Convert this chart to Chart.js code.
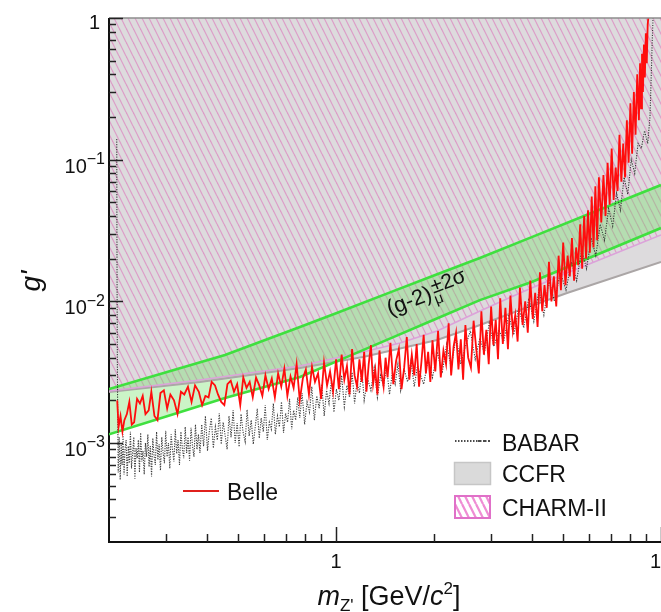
<!DOCTYPE html>
<html lang="en">
<head>
<meta charset="utf-8">
<title>Z' coupling limits</title>
<script src="https://cdn.jsdelivr.net/npm/chart.js@4/dist/chart.umd.min.js"></script>
<style>
  html, body { margin: 0; padding: 0; background: #ffffff; overflow: hidden; }
  #frame { width: 700px; height: 612px; }
</style>
</head>
<body>
<div id="frame"><canvas id="limits" width="700" height="612"></canvas></div>
<script>
// ---- data: masses in GeV/c^2, couplings g' in units of 1e-3 ----
const belleMass = [
  0.212, 0.214, 0.217, 0.220, 0.223, 0.227, 0.231, 0.235, 0.239, 0.244, 0.249, 0.254, 0.259, 0.265, 0.270,
  0.276, 0.282, 0.288, 0.295, 0.302, 0.309, 0.317, 0.325, 0.333, 0.341, 0.350, 0.359, 0.368, 0.378,
  0.387, 0.396, 0.405, 0.414, 0.424, 0.433, 0.443, 0.453, 0.463, 0.474, 0.485, 0.496, 0.507, 0.518, 0.530,
  0.542, 0.554, 0.567, 0.580, 0.593, 0.606, 0.620, 0.634, 0.648, 0.663,
  0.678, 0.693, 0.708, 0.724, 0.740, 0.756, 0.773, 0.790, 0.807, 0.825, 0.843, 0.861, 0.880, 0.899, 0.918,
  0.938, 0.958, 0.979, 1.0,
  1.02, 1.04, 1.06, 1.08, 1.10, 1.12, 1.14, 1.16, 1.18, 1.20, 1.22, 1.24, 1.26, 1.28, 1.30, 1.32, 1.34, 1.36,
  1.38, 1.40, 1.42, 1.44, 1.47, 1.50, 1.53, 1.56, 1.59, 1.62, 1.65, 1.68, 1.71, 1.74, 1.77, 1.80, 1.83, 1.86,
  1.89, 1.92, 1.95, 1.98,
  2.02, 2.06, 2.10, 2.14, 2.18, 2.22, 2.26, 2.30, 2.34, 2.38, 2.42, 2.46, 2.50, 2.55, 2.60, 2.65, 2.70, 2.75,
  2.80, 2.85, 2.90, 2.95, 3.00, 3.05, 3.10, 3.15, 3.20,
  3.26, 3.32, 3.38, 3.44, 3.50, 3.56, 3.62, 3.68, 3.75, 3.82, 3.89, 3.96, 4.03, 4.10, 4.17, 4.24, 4.31, 4.38,
  4.45, 4.52, 4.60, 4.68, 4.76, 4.84, 4.92,
  5.00, 5.08, 5.16, 5.24, 5.32, 5.40, 5.48, 5.56, 5.64, 5.72, 5.80, 5.88, 5.96, 6.04, 6.12, 6.20, 6.28, 6.36, 6.44,
  6.55, 6.65, 6.75, 6.85, 6.95, 7.05, 7.15, 7.25, 7.35, 7.45, 7.55, 7.65, 7.75, 7.85, 7.95, 8.05, 8.15, 8.25,
  8.35, 8.45, 8.55,
  8.62, 8.68, 8.74, 8.80, 8.86, 8.92, 8.98, 9.04, 9.10, 9.14
];
const belleG = [
  2.0, 1.3, 1.55, 1.2, 1.45, 1.6, 1.95, 1.35, 1.4, 2.05, 1.9, 2.15, 1.6, 1.7, 2.3,
  1.55, 1.45, 2.25, 2.35, 1.75, 2.2, 2.0, 1.6, 2.3, 2.2, 2.5, 1.95, 2.55, 2.3,
  1.85, 2.15, 2.1, 2.7, 2.55, 2.2, 1.95, 1.85, 2.6, 2.75, 2.3, 2.6, 1.85, 2.9, 2.45,
  2.7, 2.1, 2.9, 2.55, 2.15, 3.0, 2.4, 2.85, 2.1, 3.1,
  2.5, 3.35, 2.15, 2.95, 2.45, 3.6, 2.0, 2.85, 3.3, 2.2, 3.45, 2.7, 3.1, 2.05, 3.7,
  2.55, 3.2, 2.3, 3.9,
  2.4, 4.2, 2.8, 3.5, 2.2, 4.6, 3.0, 2.5, 3.9, 2.7, 4.4, 2.3, 3.6, 4.9, 2.6, 3.3, 2.2, 4.5,
  3.1, 2.5, 4.0, 2.9, 5.1, 2.6, 3.8, 4.6, 2.4, 3.4, 5.6, 2.8, 4.2, 3.0, 5.0, 2.5, 3.7, 5.8,
  3.1, 4.4, 2.7, 5.3,
  3.2, 6.2, 2.9, 4.5, 3.6, 7.0, 3.0, 4.8, 6.0, 3.3, 5.4, 2.8, 6.8, 4.0, 3.4, 7.3, 4.6, 3.1,
  8.5, 4.2, 6.3, 3.6, 9.2, 4.9, 7.4, 3.9, 10.5,
  5.0, 9.0, 4.6, 11, 6.2, 8.0, 5.2, 12.5, 6.8, 10, 6.0, 14, 7.5, 11.5, 6.6, 16, 8.5, 13,
  9.0, 19, 10, 15, 9.2, 21, 12,
  26, 13, 21, 15, 28, 14, 24, 18, 35, 17, 40, 20, 44, 22, 55, 24, 65, 27, 75,
  36, 78, 40, 95, 48, 120, 52, 88, 60, 150, 70, 130, 75, 190, 95, 250, 110, 300,
  150, 400, 190,
  480, 230, 560, 300, 650, 380, 780, 480, 900, 1000
];

const babarMass = [
  0.2113, 0.2115, 0.2118, 0.2122, 0.2127,
  0.2135, 0.215, 0.2165, 0.218, 0.2195, 0.221, 0.2225, 0.224, 0.2258, 0.2275,
  0.2293, 0.231, 0.2328, 0.2346, 0.2365, 0.2384, 0.2403, 0.2422, 0.2442, 0.2462,
  0.2482, 0.2503, 0.2524, 0.2545, 0.2567, 0.2589, 0.2611, 0.2634, 0.2657, 0.268,
  0.2704, 0.2728, 0.2752, 0.2777, 0.2802, 0.2828, 0.2854, 0.288, 0.2907, 0.2934,
  0.2962, 0.299, 0.3019, 0.3048, 0.3077, 0.3107, 0.3137, 0.3168, 0.3199, 0.3231,
  0.3263, 0.3296, 0.3329, 0.3363, 0.3397, 0.3432, 0.3467, 0.3503, 0.354, 0.3577,
  0.3614, 0.3652, 0.3691, 0.373, 0.377,
  0.381, 0.386, 0.391, 0.396, 0.402, 0.407, 0.413, 0.419, 0.425, 0.431,
  0.437, 0.443, 0.449, 0.455, 0.462, 0.468, 0.475, 0.482, 0.489, 0.496,
  0.503, 0.510, 0.517, 0.525, 0.532, 0.540, 0.548, 0.556, 0.564, 0.572,
  0.580, 0.588, 0.597, 0.605, 0.614, 0.623, 0.632, 0.641, 0.650, 0.660,
  0.669, 0.679, 0.689, 0.699, 0.709, 0.719, 0.730, 0.740, 0.751, 0.762,
  0.773, 0.786, 0.80, 0.814, 0.828, 0.842, 0.857, 0.872, 0.887, 0.903,
  0.919, 0.935, 0.951, 0.968, 0.985, 1.002, 1.02, 1.04, 1.06, 1.08,
  1.10, 1.12, 1.14, 1.16, 1.18, 1.20, 1.22, 1.25, 1.28, 1.31,
  1.34, 1.37, 1.40, 1.43, 1.46, 1.49, 1.52, 1.55, 1.58, 1.62,
  1.66, 1.70, 1.74, 1.78,
  1.86, 1.92, 1.98, 2.05, 2.12, 2.19, 2.26, 2.34, 2.42, 2.50, 2.59, 2.68, 2.77, 2.86, 2.96, 3.06, 3.17, 3.28,
  3.40, 3.52, 3.65, 3.78, 3.92, 4.06, 4.21, 4.36, 4.52,
  4.7, 4.9, 5.1, 5.3, 5.5, 5.7, 5.9, 6.1, 6.3, 6.5, 6.7, 6.9, 7.1, 7.3, 7.5, 7.7, 7.9, 8.1, 8.3, 8.5,
  8.7, 8.9, 9.1, 9.25, 9.3, 9.35, 9.4, 9.45
];
const babarG = [
  140, 40, 12, 4, 1.6,
  0.62, 1.1, 0.55, 0.98, 0.7, 1.15, 0.6, 0.9, 1.05, 0.58,
  0.95, 0.72, 1.2, 0.66, 0.85, 1.1, 0.56, 0.92, 0.78, 1.05,
  0.62, 1.18, 0.74, 0.88, 0.6, 1.0, 0.8, 1.15, 0.68, 0.95,
  0.58, 1.08, 0.82, 0.7, 1.2, 0.76, 0.98, 0.64, 1.1, 0.86,
  0.72, 1.22, 0.8, 1.0, 0.66, 1.15, 0.9, 0.74, 1.25, 0.84,
  1.05, 0.7, 1.2, 0.92, 0.78, 1.3, 0.85, 1.1, 0.75, 1.28,
  0.95, 0.8, 1.35, 0.9, 1.15,
  0.85, 1.35, 0.95, 1.55, 0.88, 1.2, 1.5, 0.92, 1.3, 1.05,
  1.62, 0.98, 1.4, 1.15, 0.9, 1.55, 1.1, 1.7, 1.0, 1.38,
  0.94, 1.6, 1.2, 1.02, 1.72, 1.12, 1.45, 0.98, 1.3, 1.75,
  1.08, 1.5, 1.2, 1.85, 1.05, 1.4, 1.25, 1.9, 1.15, 1.55,
  1.3, 1.95, 1.18, 1.62, 1.4, 2.05, 1.25, 1.7, 1.45, 2.1,
  1.5, 2.25, 1.35, 1.95, 1.65, 2.5, 1.45, 2.15, 1.75, 2.6,
  1.55, 2.35, 1.9, 2.8, 1.65, 2.4, 2.0, 3.0, 1.8, 2.55,
  2.1, 3.15, 1.9, 2.7, 2.25, 3.3, 2.0, 2.85, 2.35, 3.4,
  2.1, 3.0, 2.5, 3.5, 2.2, 3.15, 2.6, 3.6, 2.35, 3.3,
  2.7, 3.8, 2.5, 3.5,
  2.6, 3.9, 2.9, 4.4, 3.1, 5.0, 3.4, 5.6, 3.6, 4.8, 6.2, 3.9, 5.5, 4.3, 7.0, 4.8, 6.3, 5.2,
  8.0, 5.8, 9.0, 6.5, 10.5, 7.2, 12, 8.0, 14,
  10, 16, 12, 19, 14, 23, 17, 28, 21, 35, 27, 45, 34, 58, 44, 75, 57, 100, 80, 130,
  120, 160, 130, 200, 300, 450, 700, 1000
];

// (g-2)_mu +-2 sigma band
const g2Mass  = [0.2, 0.3, 0.455, 0.774, 1.0, 1.5, 2.0, 2.77, 4.0, 6.0, 10];
const g2Upper = [2.40, 3.16, 4.18, 6.59, 8.24, 11.8, 15.2, 20.2, 28.4, 41.3, 66.2];
const g2Lower = [1.15, 1.54, 2.08, 2.92, 3.75, 5.59, 7.42, 10.2, 13.7, 20.2, 32.9];

// neutrino trident exclusions (excluded above the curve)
const ccfrMass  = [0.2, 0.381, 0.774, 1.21, 2.045, 2.773, 3.681, 5.137, 10];
const ccfrG     = [2.29, 2.69, 3.38, 4.05, 5.33, 6.81, 8.69, 11.45, 18.95];
const charmMass = [0.2, 0.381, 0.774, 1.21, 1.573, 2.045, 2.773, 3.681, 5.137, 10];
const charmG    = [2.33, 2.78, 3.49, 4.39, 5.08, 6.17, 8.55, 11.45, 15.85, 29.4];

// axes
const xRange = [0.2, 10];
const yRange = [2e-4, 1];
const xTickValues = [1, 10];
const xTickLabels = ['1', '10'];
const yTickValues = [1e-3, 1e-2, 1e-1, 1];
const yTickExponents = [-3, -2, -1, 0];

// annotation along the band: anchor (mass, coupling) and angle in degrees
const bandLabelAnchor = [1.465, 7.9e-3];
const bandLabelAngle = -21;

const FONT = '"Liberation Sans", Arial, Helvetica, sans-serif';
const toPoints = (ms, gs) => ms.map((m, i) => ({ x: m, y: gs[i] * 1e-3 }));

function hatchPattern(lineColor, background, width) {
  const c = document.createElement('canvas');
  c.width = 7; c.height = 14;
  const g = c.getContext('2d');
  if (background) { g.fillStyle = background; g.fillRect(0, 0, 7, 14); }
  g.strokeStyle = lineColor;
  g.lineWidth = width;
  for (const dx of [-7, 0, 7]) {
    g.beginPath(); g.moveTo(dx, 0); g.lineTo(dx + 7, 14); g.stroke();
  }
  return g.createPattern(c, 'repeat');
}

const charmHatch = hatchPattern('rgba(220,118,186,0.62)', null, 1.2);
const legendHatch = hatchPattern('rgba(236,120,205,0.85)', '#ffffff', 2.2);

const GREEN = '#3fe03f';

const decorations = {
  id: 'decorations',
  beforeDatasetsDraw(chart) {
    const { ctx, chartArea: a } = chart;
    ctx.save();
    ctx.strokeStyle = '#111';
    ctx.lineWidth = 2;
    ctx.beginPath();
    ctx.moveTo(a.left, a.top);
    ctx.lineTo(a.left, a.bottom);
    ctx.lineTo(a.right + 2, a.bottom);
    ctx.stroke();
    ctx.restore();
  },
  afterDraw(chart) {
    const { ctx, chartArea: a, scales: { x, y } } = chart;
    ctx.save();

    // frame top
    ctx.strokeStyle = '#8c8c8c';
    ctx.lineWidth = 1.5;
    ctx.beginPath(); ctx.moveTo(a.left, a.top); ctx.lineTo(a.right, a.top); ctx.stroke();

    // ticks (inward)
    ctx.strokeStyle = '#222';
    ctx.lineWidth = 1.5;
    for (let d = -4; d <= 0; d++) {
      for (let k = 1; k <= 9; k++) {
        const v = k * Math.pow(10, d);
        if (v < yRange[0] * 1.001 || v > yRange[1] * 1.001) continue;
        const py = Math.round(y.getPixelForValue(v)) + 0.5;
        const len = k === 1 ? 14 : 7;
        ctx.beginPath(); ctx.moveTo(a.left, py); ctx.lineTo(a.left + len, py); ctx.stroke();
      }
    }
    for (let d = -1; d <= 1; d++) {
      for (let k = 1; k <= 9; k++) {
        const v = k * Math.pow(10, d);
        if (v <= xRange[0] * 1.001 || v > xRange[1] * 1.001) continue;
        const px = Math.round(x.getPixelForValue(v)) + 0.5;
        const len = k === 1 ? 15 : 8;
        ctx.beginPath(); ctx.moveTo(px, a.bottom); ctx.lineTo(px, a.bottom - len); ctx.stroke();
      }
    }

    ctx.fillStyle = '#111';
    // y tick labels
    yTickValues.forEach((v, i) => {
      const py = y.getPixelForValue(v);
      const e = yTickExponents[i];
      if (e === 0) {
        ctx.font = `20px ${FONT}`;
        ctx.textAlign = 'right';
        ctx.textBaseline = 'alphabetic';
        ctx.fillText('1', 100, py + 11);
      } else {
        const sup = '\u2212' + Math.abs(e);
        ctx.font = `16px ${FONT}`;
        const ws = ctx.measureText(sup).width;
        ctx.textAlign = 'left';
        ctx.textBaseline = 'alphabetic';
        const right = 105;
        ctx.fillText(sup, right - ws, py + 4.5);
        ctx.font = `20px ${FONT}`;
        const wb = ctx.measureText('10').width;
        ctx.fillText('10', right - ws - wb, py + 13);
      }
    });

    // x tick labels
    ctx.font = `20px ${FONT}`;
    ctx.textAlign = 'center';
    ctx.textBaseline = 'alphabetic';
    xTickValues.forEach((v, i) => {
      ctx.fillText(xTickLabels[i], x.getPixelForValue(v), a.bottom + 26);
    });

    // x axis title: m_Z' [GeV/c^2]
    const parts = [
      { t: 'm', f: `italic 27px ${FONT}`, dy: 0 },
      { t: "Z'", f: `17px ${FONT}`, dy: 6 },
      { t: ' [GeV/', f: `27px ${FONT}`, dy: 0 },
      { t: 'c', f: `italic 27px ${FONT}`, dy: 0 },
      { t: '2', f: `17px ${FONT}`, dy: -11 },
      { t: ']', f: `27px ${FONT}`, dy: 0 }
    ];
    let total = 0;
    parts.forEach(p => { ctx.font = p.f; p.w = ctx.measureText(p.t).width; total += p.w; });
    let cx = 389 - total / 2;
    ctx.textAlign = 'left';
    parts.forEach(p => { ctx.font = p.f; ctx.fillText(p.t, cx, 605 + p.dy); cx += p.w; });

    // y axis title
    ctx.save();
    ctx.translate(40, (a.top + a.bottom) / 2 + 1);
    ctx.rotate(-Math.PI / 2);
    ctx.font = `italic 28px ${FONT}`;
    ctx.textAlign = 'center';
    ctx.fillText("g'", 0, 0);
    ctx.restore();

    // band annotation
    ctx.save();
    ctx.translate(x.getPixelForValue(bandLabelAnchor[0]), y.getPixelForValue(bandLabelAnchor[1]));
    ctx.rotate(bandLabelAngle * Math.PI / 180);
    ctx.textAlign = 'left';
    ctx.font = `22px ${FONT}`;
    ctx.fillText('(g-2)', 0, 0);
    const wMain = ctx.measureText('(g-2)').width;
    ctx.font = `15px ${FONT}`;
    ctx.fillText('\u03bc', wMain + 1, 6);
    ctx.font = `21px ${FONT}`;
    ctx.fillText('\u00b12\u03c3', wMain + 2, -5);
    ctx.restore();

    // legend
    ctx.font = `23px ${FONT}`;
    ctx.textAlign = 'left';
    ctx.textBaseline = 'alphabetic';
    // BABAR
    ctx.strokeStyle = '#111';
    ctx.lineWidth = 1.6;
    ctx.setLineDash([1.5, 1.5]);
    ctx.beginPath(); ctx.moveTo(455, 441); ctx.lineTo(478, 441); ctx.stroke();
    ctx.setLineDash([3.5, 1.5]);
    ctx.beginPath(); ctx.moveTo(478, 441); ctx.lineTo(490, 441); ctx.stroke();
    ctx.setLineDash([]);
    ctx.fillText('BABAR', 502, 450.5);
    // CCFR
    ctx.fillStyle = '#dadada';
    ctx.fillRect(454, 462, 37, 23);
    ctx.strokeStyle = '#c6c6c6';
    ctx.lineWidth = 1.5;
    ctx.strokeRect(454.5, 462.5, 36, 22);
    ctx.fillStyle = '#111';
    ctx.fillText('CCFR', 502, 482);
    // CHARM-II
    ctx.fillStyle = legendHatch;
    ctx.fillRect(454, 495, 37, 24);
    ctx.strokeStyle = '#e070c8';
    ctx.lineWidth = 2;
    ctx.strokeRect(455, 496, 35, 22);
    ctx.fillStyle = '#111';
    ctx.fillText('CHARM-II', 502, 516);
    // Belle
    ctx.strokeStyle = '#e0201c';
    ctx.lineWidth = 2.2;
    ctx.beginPath(); ctx.moveTo(183, 491); ctx.lineTo(219, 491); ctx.stroke();
    ctx.fillText('Belle', 227, 499.5);

    ctx.restore();
  }
};

new Chart(document.getElementById('limits'), {
  type: 'line',
  data: {
    datasets: [
      { label: 'Belle', data: toPoints(belleMass, belleG), borderColor: '#ff0d0d', borderWidth: 1.8,
        fill: false, order: 0 },
      { label: 'BABAR', data: toPoints(babarMass, babarG), borderColor: 'rgba(40,40,40,0.9)', borderWidth: 1.1,
        borderDash: [1.2, 1.3], fill: false, order: 1 },
      { label: '(g-2) upper', data: toPoints(g2Mass, g2Upper), borderColor: GREEN, borderWidth: 2.6,
        fill: '+1', backgroundColor: 'rgba(110,225,100,0.36)', order: 2 },
      { label: '(g-2) lower', data: toPoints(g2Mass, g2Lower), borderColor: GREEN, borderWidth: 2.6,
        fill: false, order: 3 },
      { label: 'CHARM-II', data: toPoints(charmMass, charmG), borderColor: '#dca2da', borderWidth: 1.6,
        fill: 'end', backgroundColor: charmHatch, order: 4 },
      { label: 'CCFR', data: toPoints(ccfrMass, ccfrG), borderColor: '#aba6a6', borderWidth: 2,
        fill: 'end', backgroundColor: '#dddbdd', order: 5 }
    ]
  },
  options: {
    responsive: false,
    animation: false,
    events: [],
    layout: { padding: { left: 109, top: 18, right: 39, bottom: 70 } },
    elements: { point: { radius: 0 }, line: { tension: 0 } },
    scales: {
      x: { type: 'logarithmic', min: xRange[0], max: xRange[1], display: false },
      y: { type: 'logarithmic', min: yRange[0], max: yRange[1], display: false }
    },
    plugins: {
      legend: { display: false },
      tooltip: { enabled: false },
      filler: { drawTime: 'beforeDatasetsDraw' }
    }
  },
  plugins: [decorations]
});
</script>
</body>
</html>
